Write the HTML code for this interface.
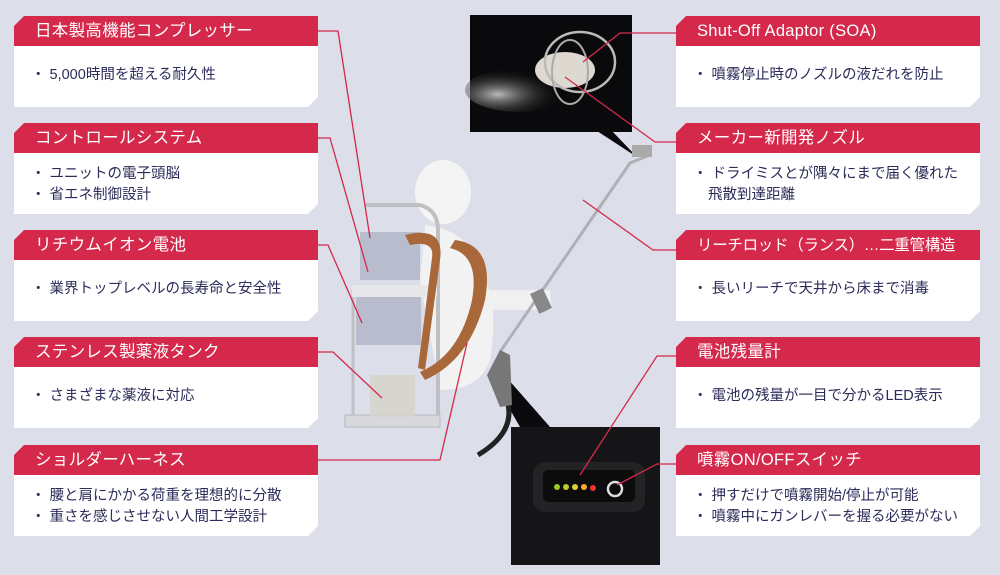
<!DOCTYPE html>
<html><head><meta charset="utf-8"><style>
body{margin:0;width:1000px;height:575px;background:#dcdeea;position:relative;overflow:hidden;font-family:"Liberation Sans","Noto Sans CJK JP",sans-serif}
.box{position:absolute;width:304px;height:91px;background:#fff;clip-path:polygon(10px 0,100% 0,100% 81px,294px 100%,0 100%,0 10px)}
.hd{height:30px;background:#d4294b;color:#fff;font-size:16.5px;line-height:31px;padding-left:21px;letter-spacing:0.3px;white-space:nowrap}
.bd{color:#2c2c5a;font-size:14.5px;padding:11px 0 0 17px;line-height:21px}
.bd div{padding-left:15px;text-indent:-15px}
.one{padding-top:19px}
</style></head><body>
<svg width="1000" height="575" style="position:absolute;left:0;top:0">
<defs><radialGradient id="sp" cx="0.3" cy="0.6" r="0.6"><stop offset="0" stop-color="#bbb"/><stop offset="1" stop-color="#0a0a0c" stop-opacity="0"/></radialGradient></defs>
<rect x="470" y="15" width="162" height="117" fill="#0a0a0c"/>
<ellipse cx="520" cy="90" rx="55" ry="22" fill="url(#sp)"/>
<ellipse cx="565" cy="70" rx="30" ry="18" fill="#ddd8d0"/>
<ellipse cx="580" cy="62" rx="35" ry="30" fill="none" stroke="#bbb" stroke-width="2.5"/>
<ellipse cx="570" cy="72" rx="18" ry="32" fill="none" stroke="#aaa" stroke-width="2"/>
<polygon points="597,131 612,131 637,157" fill="#0a0a0c"/>
<rect x="511" y="427" width="149" height="138" fill="#151517"/>
<rect x="533" y="462" width="112" height="50" rx="12" fill="#232325"/>
<rect x="543" y="470" width="92" height="32" rx="5" fill="#0c0c0d"/>
<circle cx="557" cy="487" r="3" fill="#9c2"/><circle cx="566" cy="487" r="3" fill="#bc2"/><circle cx="575" cy="487" r="3" fill="#dc3"/><circle cx="584" cy="487" r="3" fill="#fa3"/><circle cx="593" cy="488" r="3" fill="#e33"/>
<circle cx="615" cy="489" r="7" fill="none" stroke="#ddd" stroke-width="2.5"/>
<polygon points="492,378 500,370 550,427 520,427" fill="#0a0a0c"/>
<ellipse cx="443" cy="192" rx="28" ry="32" fill="#f4f4f4"/>
<path d="M425,225 Q470,230 480,270 Q500,300 490,360 Q480,390 440,390 L420,280Z" fill="#f2f2f2"/>
<path d="M470,290 L550,290 L552,310 L480,310Z" fill="#f0f0f0"/>
<path d="M365,205 L420,205 Q438,210 438,230 L438,425" stroke="#c0c0c4" stroke-width="4" fill="none"/>
<line x1="353" y1="290" x2="353" y2="425" stroke="#c0c0c4" stroke-width="3"/>
<rect x="345" y="415" width="95" height="12" fill="#d8d8dc" stroke="#b8b8bc"/>
<rect x="360" y="232" width="60" height="48" fill="#b8bccc"/>
<rect x="352" y="285" width="85" height="12" fill="#e8e8ea"/>
<rect x="356" y="297" width="65" height="48" fill="#b8bccc"/>
<rect x="370" y="375" width="45" height="42" fill="#d6d4cc" opacity="0.9"/>
<path d="M405,235 Q445,225 440,260 L425,370 L418,368 L432,258 Q435,240 410,245Z" fill="#a8683a"/>
<path d="M455,240 Q495,245 485,300 Q470,360 425,380 L420,372 Q460,355 472,300 Q480,255 450,248Z" fill="#a8683a"/>
<path d="M505,395 Q520,430 478,455" stroke="#222" stroke-width="5" fill="none"/>
<polyline points="500,352 630,163 650,155" stroke="#b0b0b4" stroke-width="3" fill="none"/>
<rect x="632" y="145" width="20" height="12" fill="#aaa"/>
<path d="M487,375 L500,350 L510,355 L512,405 L500,407Z" fill="#777"/>
<rect x="534" y="290" width="14" height="22" fill="#888" transform="rotate(-25 541 301)"/>
<g stroke="#d4294b" stroke-width="1.3" fill="none">
<polyline points="318,31 338,31 370,238"/>
<polyline points="318,138 330,138 368,272"/>
<polyline points="318,245 328,245 362,323"/>
<polyline points="318,352 333,352 382,398"/>
<polyline points="318,460 440,460 467,343"/>
<polyline points="676,33 620,33 583,62"/>
<polyline points="676,142 655,142 565,77"/>
<polyline points="676,250 653,250 583,200"/>
<polyline points="676,356 657,356 580,475"/>
<polyline points="676,464 657,464 617,485"/>
</g>
</svg>
<div class="box" style="left:14px;top:16px"><div class="hd">日本製高機能コンプレッサー</div><div class="bd one"><div>・ 5,000時間を超える耐久性</div></div></div>
<div class="box" style="left:14px;top:123px"><div class="hd">コントロールシステム</div><div class="bd"><div>・ ユニットの電子頭脳</div><div>・ 省エネ制御設計</div></div></div>
<div class="box" style="left:14px;top:230px"><div class="hd">リチウムイオン電池</div><div class="bd one"><div>・ 業界トップレベルの長寿命と安全性</div></div></div>
<div class="box" style="left:14px;top:337px"><div class="hd">ステンレス製薬液タンク</div><div class="bd one"><div>・ さまざまな薬液に対応</div></div></div>
<div class="box" style="left:14px;top:445px"><div class="hd">ショルダーハーネス</div><div class="bd"><div>・ 腰と肩にかかる荷重を理想的に分散</div><div>・ 重さを感じさせない人間工学設計</div></div></div>
<div class="box" style="left:676px;top:16px"><div class="hd">Shut-Off Adaptor (SOA)</div><div class="bd one"><div>・ 噴霧停止時のノズルの液だれを防止</div></div></div>
<div class="box" style="left:676px;top:123px"><div class="hd">メーカー新開発ノズル</div><div class="bd"><div>・ ドライミスとが隅々にまで届く優れた<br>飛散到達距離</div></div></div>
<div class="box" style="left:676px;top:230px"><div class="hd" style="font-size:15.5px;letter-spacing:-0.3px">リーチロッド（ランス）…二重管構造</div><div class="bd one"><div>・ 長いリーチで天井から床まで消毒</div></div></div>
<div class="box" style="left:676px;top:337px"><div class="hd">電池残量計</div><div class="bd one"><div>・ 電池の残量が一目で分かるLED表示</div></div></div>
<div class="box" style="left:676px;top:445px"><div class="hd">噴霧ON/OFFスイッチ</div><div class="bd"><div>・ 押すだけで噴霧開始/停止が可能</div><div>・ 噴霧中にガンレバーを握る必要がない</div></div></div>
</body></html>
